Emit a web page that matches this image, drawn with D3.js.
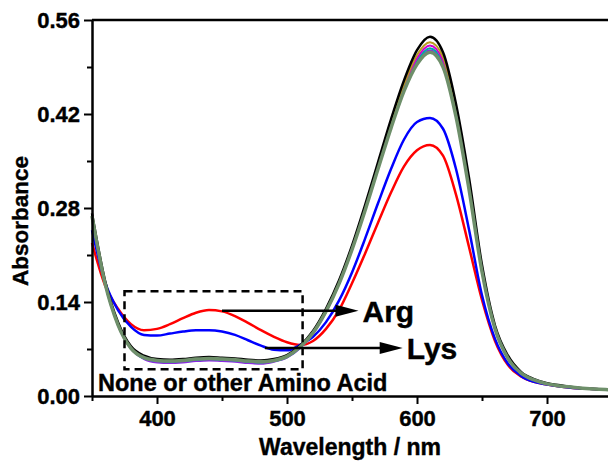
<!DOCTYPE html>
<html>
<head>
<meta charset="utf-8">
<script src="https://cdn.jsdelivr.net/npm/d3@7"></script>
<style>
  body { margin: 0; background: #fff; }
  svg { display: block; }
  text { font-family: "Liberation Sans", Arial, sans-serif; font-weight: bold; fill: #000; stroke: #000; stroke-width: 0.4px; }
</style>
</head>
<body>
<script>
// wavelengths (nm), one value every 10 nm
const wavelengths = d3.range(350, 751, 10);

// absorbance of each sample
const arg = [0.228, 0.165, 0.130, 0.107, 0.098, 0.100, 0.107, 0.116, 0.124, 0.128,
  0.126, 0.119, 0.109, 0.098, 0.088, 0.080, 0.076, 0.082, 0.100, 0.128,
  0.168, 0.212, 0.258, 0.303, 0.342, 0.366, 0.374, 0.358, 0.300, 0.222,
  0.143, 0.082, 0.046, 0.029, 0.021, 0.017, 0.014, 0.012, 0.011, 0.010, 0.009];
const lys = [0.247, 0.170, 0.128, 0.103, 0.091, 0.090, 0.093, 0.096, 0.098, 0.098,
  0.096, 0.091, 0.083, 0.075, 0.069, 0.068, 0.076, 0.088, 0.110, 0.142,
  0.184, 0.234, 0.287, 0.338, 0.382, 0.408, 0.414, 0.398, 0.338, 0.248,
  0.150, 0.085, 0.048, 0.030, 0.021, 0.017, 0.014, 0.012, 0.011, 0.010, 0.009];
const none = [0.272, 0.172, 0.110, 0.074, 0.060, 0.055, 0.054, 0.055, 0.057, 0.058,
  0.057, 0.056, 0.054, 0.053, 0.055, 0.061, 0.075, 0.097, 0.130, 0.172,
  0.224, 0.284, 0.348, 0.412, 0.470, 0.515, 0.535, 0.512, 0.435, 0.325,
  0.195, 0.105, 0.060, 0.036, 0.025, 0.019, 0.016, 0.013, 0.011, 0.010, 0.009];
const otherA = [0.270, 0.170, 0.108, 0.073, 0.058, 0.054, 0.053, 0.054, 0.056, 0.057,
  0.056, 0.055, 0.053, 0.052, 0.054, 0.060, 0.074, 0.096, 0.128, 0.170,
  0.221, 0.281, 0.344, 0.407, 0.464, 0.508, 0.527, 0.505, 0.428, 0.318,
  0.190, 0.103, 0.058, 0.035, 0.024, 0.019, 0.015, 0.013, 0.011, 0.010, 0.009];
const otherB = [0.269, 0.169, 0.107, 0.072, 0.057, 0.053, 0.052, 0.053, 0.055, 0.056,
  0.055, 0.054, 0.052, 0.051, 0.053, 0.059, 0.073, 0.095, 0.127, 0.169,
  0.220, 0.279, 0.341, 0.404, 0.460, 0.503, 0.522, 0.500, 0.424, 0.314,
  0.188, 0.102, 0.057, 0.034, 0.024, 0.018, 0.015, 0.013, 0.011, 0.010, 0.009];
const otherC = [0.268, 0.168, 0.106, 0.071, 0.056, 0.052, 0.051, 0.052, 0.054, 0.055,
  0.054, 0.053, 0.051, 0.050, 0.052, 0.058, 0.072, 0.094, 0.126, 0.168,
  0.219, 0.278, 0.340, 0.401, 0.457, 0.499, 0.518, 0.496, 0.420, 0.311,
  0.186, 0.101, 0.056, 0.034, 0.024, 0.018, 0.015, 0.013, 0.011, 0.010, 0.009];
const otherD = [0.267, 0.167, 0.105, 0.070, 0.055, 0.050, 0.049, 0.050, 0.052, 0.053,
  0.052, 0.051, 0.049, 0.048, 0.051, 0.057, 0.071, 0.093, 0.125, 0.167,
  0.218, 0.277, 0.339, 0.400, 0.455, 0.496, 0.515, 0.493, 0.418, 0.309,
  0.185, 0.100, 0.056, 0.034, 0.024, 0.018, 0.015, 0.013, 0.011, 0.010, 0.009];
const otherE = [0.268, 0.168, 0.106, 0.071, 0.057, 0.053, 0.052, 0.053, 0.055, 0.056,
  0.055, 0.054, 0.052, 0.051, 0.053, 0.059, 0.073, 0.094, 0.126, 0.167,
  0.218, 0.276, 0.338, 0.399, 0.454, 0.494, 0.512, 0.490, 0.416, 0.308,
  0.185, 0.100, 0.056, 0.034, 0.024, 0.018, 0.015, 0.013, 0.011, 0.010, 0.009];

const xTicks = [400, 500, 600, 700];
const xMinorTicks = [350, 450, 550, 650, 750];
const yTicks = [0.00, 0.14, 0.28, 0.42, 0.56];
const yMinorTicks = [0.07, 0.21, 0.35, 0.49];

const series = [
  { name: 'Arg', values: arg, color: '#ff0000', width: 2.5 },
  { name: 'Lys', values: lys, color: '#0000ff', width: 2.5 },
  { name: 'other D', values: otherD, color: '#8a2be2', width: 2 },
  { name: 'other C', values: otherC, color: '#00a8a8', width: 2 },
  { name: 'other B', values: otherB, color: '#d000d0', width: 2 },
  { name: 'other A', values: otherA, color: '#b89a20', width: 2 },
  { name: 'none', values: none, color: '#000000', width: 2.5 },
  { name: 'other E', values: otherE, color: '#6e8f6a', width: 3.5 }
];

const width = 608, height = 462;
const x = d3.scaleLinear().domain([350, 750]).range([92, 612]);
const y = d3.scaleLinear().domain([0, 0.56]).range([396, 20]);

const svg = d3.select('body').append('svg')
  .attr('width', width)
  .attr('height', height);

// curves
const line = d3.line()
  .x((d, i) => x(wavelengths[i]))
  .y(d => y(d))
  .curve(d3.curveMonotoneX);

series.forEach(s => {
  svg.append('path')
    .datum(s.values)
    .attr('fill', 'none')
    .attr('stroke', s.color)
    .attr('stroke-width', s.width)
    .attr('stroke-linejoin', 'round')
    .attr('d', line);
});

// dashed box around the unchanged spectra
svg.append('rect')
  .attr('x', x(375))
  .attr('y', y(0.156))
  .attr('width', x(512) - x(375))
  .attr('height', y(0.040) - y(0.156))
  .attr('fill', 'none')
  .attr('stroke', '#000')
  .attr('stroke-width', 2.5)
  .attr('stroke-dasharray', '8,5');

// arrows with labels
const arrows = [
  { label: 'Arg', from: 450, to: 555, level: 0.127 },
  { label: 'Lys', from: 483, to: 589, level: 0.0715 }
];
arrows.forEach(a => {
  const y0 = y(a.level), tip = x(a.to);
  svg.append('line')
    .attr('x1', x(a.from)).attr('x2', tip - 18)
    .attr('y1', y0).attr('y2', y0)
    .attr('stroke', '#000')
    .attr('stroke-width', 2.5);
  svg.append('path')
    .attr('d', `M${tip},${y0} L${tip - 23},${y0 - 6} L${tip - 23},${y0 + 6} Z`)
    .attr('fill', '#000');
  svg.append('text')
    .attr('x', tip + 4)
    .attr('y', y0 + 11)
    .style('font-size', '30px')
    .text(a.label);
});

svg.append('text')
  .attr('x', 98)
  .attr('y', 391)
  .style('font-size', '23.5px')
  .text('None or other Amino Acid');

// axes
const xAxis = svg.append('g')
  .attr('transform', `translate(0, ${y(0)})`)
  .call(d3.axisBottom(x).tickValues(xTicks).tickSize(8).tickPadding(6).tickSizeOuter(0));
xAxis.select('.domain').attr('stroke-width', 2.5);
xAxis.selectAll('.tick line').attr('stroke-width', 2);
xAxis.selectAll('text').style('font-size', '22px').style('font-family', '"Liberation Sans", Arial, sans-serif');

svg.append('g')
  .attr('transform', `translate(0, ${y(0)})`)
  .call(d3.axisBottom(x).tickValues(xMinorTicks).tickSize(5).tickFormat('').tickSizeOuter(0))
  .call(g => g.select('.domain').remove())
  .selectAll('.tick line').attr('stroke-width', 2);

const yAxis = svg.append('g')
  .attr('transform', `translate(${x(350)}, 0)`)
  .call(d3.axisLeft(y).tickValues(yTicks).tickFormat(d3.format('.2f')).tickSize(8).tickPadding(4).tickSizeOuter(0));
yAxis.select('.domain').attr('stroke-width', 2.5);
yAxis.selectAll('.tick line').attr('stroke-width', 2);
yAxis.selectAll('text').style('font-size', '22px').style('font-family', '"Liberation Sans", Arial, sans-serif');

svg.append('g')
  .attr('transform', `translate(${x(350)}, 0)`)
  .call(d3.axisLeft(y).tickValues(yMinorTicks).tickSize(5).tickFormat('').tickSizeOuter(0))
  .call(g => g.select('.domain').remove())
  .selectAll('.tick line').attr('stroke-width', 2);

// top frame line
svg.append('line')
  .attr('x1', x(350)).attr('x2', x(750))
  .attr('y1', y(0.56)).attr('y2', y(0.56))
  .attr('stroke', '#000')
  .attr('stroke-width', 2.5);

// axis titles
svg.append('text')
  .attr('x', 350)
  .attr('y', 455)
  .attr('text-anchor', 'middle')
  .style('font-size', '23px')
  .text('Wavelength / nm');

svg.append('text')
  .attr('transform', 'translate(28, 221) rotate(-90)')
  .attr('text-anchor', 'middle')
  .style('font-size', '22.5px')
  .text('Absorbance');
</script>
</body>
</html>
